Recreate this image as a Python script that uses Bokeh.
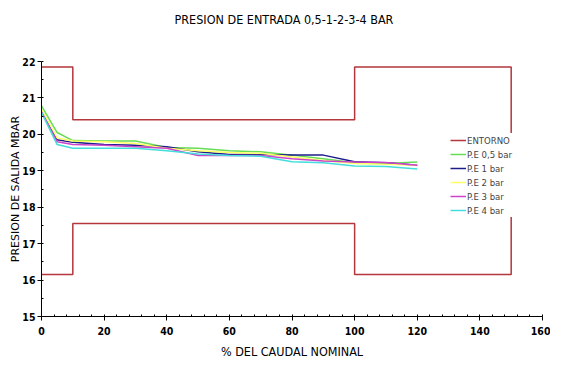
from bokeh.plotting import figure
from bokeh.models import Range1d, SingleIntervalTicker, Legend, LegendItem, Title
from bokeh.embed import file_html
from bokeh.resources import INLINE

# ---- data ----
caudal = [0, 5, 10, 20, 30, 40, 50, 60, 70, 80, 90, 100, 110, 120]
pe05 = [20.78, 20.05, 19.83, 19.82, 19.82, 19.64, 19.62, 19.55, 19.52, 19.43, 19.33, 19.22, 19.20, 19.24]
pe1 = [20.65, 19.85, 19.78, 19.72, 19.70, 19.66, 19.52, 19.45, 19.45, 19.43, 19.43, 19.25, 19.22, 19.15]
pe2 = [20.68, 19.90, 19.82, 19.80, 19.75, 19.62, 19.55, 19.50, 19.48, 19.38, 19.28, 19.20, 19.18, 19.15]
pe3 = [20.62, 19.80, 19.72, 19.70, 19.66, 19.62, 19.42, 19.42, 19.42, 19.33, 19.27, 19.24, 19.23, 19.15]
pe4 = [20.60, 19.72, 19.62, 19.62, 19.62, 19.55, 19.46, 19.42, 19.40, 19.25, 19.22, 19.13, 19.12, 19.05]

entorno_x = [0, 10, 10, 100, 100, 150, 150, 100, 100, 10, 10, 0]
entorno_y = [21.85, 21.85, 20.40, 20.40, 21.85, 21.85, 16.15, 16.15, 17.55, 17.55, 16.15, 16.15]

series_names = ["P.E 0,5 bar", "P.E 1 bar", "P.E 2 bar", "P.E 3 bar", "P.E 4 bar"]
series_values = [pe05, pe1, pe2, pe3, pe4]
series_colors = ["#66dd55", "#1c1c8c", "#ffff66", "#cc44cc", "#44dddd"]
entorno_color = "#b3373c"

title_text = "PRESION DE ENTRADA 0,5-1-2-3-4 BAR"
x_label = "% DEL CAUDAL NOMINAL"
y_label = "PRESION DE SALIDA MBAR"

NARROW = "Liberation Sans Narrow, DejaVu Sans Condensed, Arial Narrow, sans-serif"

p = figure(width=550, height=361, output_backend="svg", toolbar_location=None,
           x_range=Range1d(0, 160), y_range=Range1d(15, 22))
p.title = None
p.min_border_left = 41
p.min_border_right = 8
p.min_border_top = 61
p.min_border_bottom = 44
p.outline_line_color = None
p.xgrid.visible = False
p.ygrid.visible = False
p.background_fill_color = "white"
p.border_fill_color = "white"

# spacer between frame and title, then the title itself
p.add_layout(Title(text=" ", text_font_size="1px", standoff=31), "above")
p.add_layout(Title(text=title_text, align="left", offset=133, standoff=0,
                   vertical_align="middle", text_font=NARROW,
                   text_font_size="12.5px", text_font_style="normal",
                   text_color="black"), "above")

r_ent = p.line(entorno_x, entorno_y, line_color=entorno_color, line_width=1.5)
renderers = []
for vals, col in zip(series_values, series_colors):
    renderers.append(p.line(caudal, vals, line_color=col, line_width=1.5))

# axes
p.xaxis.ticker = SingleIntervalTicker(interval=20, num_minor_ticks=5)
p.yaxis.ticker = SingleIntervalTicker(interval=1, num_minor_ticks=2)
for ax in (p.xaxis[0], p.yaxis[0]):
    ax.axis_line_color = "black"
    ax.major_tick_line_color = "black"
    ax.minor_tick_line_color = "black"
    ax.major_tick_out = 4
    ax.major_tick_in = 0
    ax.minor_tick_out = 0
    ax.minor_tick_in = 2
    ax.major_label_text_font = NARROW
    ax.major_label_text_font_style = "bold"
    ax.major_label_text_font_size = "10.5px"
    ax.major_label_text_color = "black"
    ax.axis_label_text_font_style = "normal"
    ax.axis_label_text_color = "black"

p.xaxis.axis_label = x_label
p.xaxis.axis_label_text_font = NARROW
p.xaxis.axis_label_text_font_size = "12.5px"
p.xaxis.major_label_standoff = 6
p.xaxis.axis_label_standoff = 6

p.yaxis.axis_label = y_label
p.yaxis.axis_label_text_font = "DejaVu Sans"
p.yaxis.axis_label_text_font_size = "11px"
p.yaxis.major_label_standoff = 2
p.yaxis.axis_label_standoff = -3

items = [LegendItem(label="ENTORNO", renderers=[r_ent])]
for name, r in zip(series_names, renderers):
    items.append(LegendItem(label=name, renderers=[r]))
legend = Legend(items=items, location=(409, 99))
legend.border_line_color = None
legend.background_fill_color = "white"
legend.background_fill_alpha = 1.0
legend.label_text_font = NARROW
legend.label_text_font_size = "9.5px"
legend.label_height = 14
legend.glyph_height = 14
legend.glyph_width = 16
legend.label_standoff = 1
legend.padding = 2
legend.spacing = 0
legend.margin = 0
p.add_layout(legend)

open("out.html", "w").write(file_html(p, INLINE))
